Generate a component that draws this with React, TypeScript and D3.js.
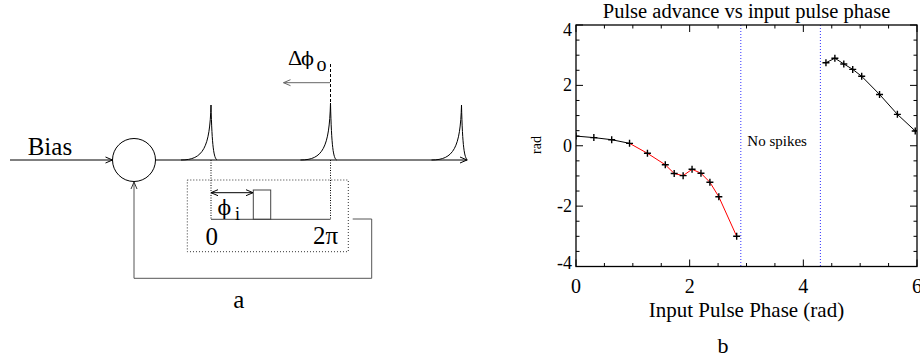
import * as d3 from 'd3';
import React, { useEffect, useRef } from 'react';

// input pulse phase (rad) and measured pulse advance (rad)
const leftPhase = [0, 0.314, 0.628, 0.942, 1.257, 1.571, 1.728, 1.885, 2.042, 2.199, 2.356, 2.513, 2.827];
const leftAdvance = [0.32, 0.27, 0.2, 0.08, -0.25, -0.63, -0.92, -0.99, -0.78, -0.91, -1.21, -1.69, -3.0];
const redFrom = 3;
const rightPhase = [4.398, 4.555, 4.712, 4.869, 5.027, 5.341, 5.655, 5.969];
const rightAdvance = [2.75, 2.9, 2.71, 2.53, 2.3, 1.7, 1.04, 0.49];
const noSpikeBounds = [2.9, 4.3];
const xTickLabels = [0, 2, 4, 6];
const yTickLabels = [-4, -2, 0, 2, 4];

const serif = "'Liberation Serif', 'Times New Roman', serif";
const phiFont = "'DejaVu Serif', serif";

export default function App() {
  const svgRef = useRef(null);

  useEffect(() => {
    const svg = d3.select(svgRef.current);
    svg.selectAll('*').remove();

    // ---------- panel a: schematic ----------
    const a = svg.append('g');
    const base = 160;

    const line = (g, x1, y1, x2, y2, color = '#000', dash = null) => {
      const l = g.append('line')
        .attr('x1', x1).attr('y1', y1).attr('x2', x2).attr('y2', y2)
        .attr('stroke', color).attr('stroke-width', 1);
      if (dash) l.attr('stroke-dasharray', dash);
      return l;
    };
    // open chevron arrowhead, tip at (x,y), pointing along angle (radians)
    const chevron = (g, x, y, ang, color = '#000') => {
      const len = 7, half = 3;
      const bx = x - len * Math.cos(ang), by = y - len * Math.sin(ang);
      const px = -Math.sin(ang) * half, py = Math.cos(ang) * half;
      g.append('path')
        .attr('d', `M${bx + px},${by + py}L${x},${y}L${bx - px},${by - py}`)
        .attr('fill', 'none').attr('stroke', color).attr('stroke-width', 1);
    };

    line(a, 10, base, 112.5, base);
    chevron(a, 112.5, base, 0);
    a.append('circle').attr('cx', 134).attr('cy', base).attr('r', 21.5)
      .attr('fill', 'none').attr('stroke', '#000').attr('stroke-width', 1);
    line(a, 155.5, base, 467, base);
    chevron(a, 467, base, 0);

    // spikes
    [[211, 55], [330.5, 57], [461.5, 55]].forEach(([px, h]) => {
      const p = d3.path();
      p.moveTo(px - 30, base);
      p.bezierCurveTo(px - 8, base, px - 1.2, base - 12, px, base - h);
      p.bezierCurveTo(px + 1, base - 12, px + 3, base - 2, px + 6, base);
      a.append('path').attr('d', p.toString())
        .attr('fill', 'none').attr('stroke', '#000').attr('stroke-width', 1);
    });

    a.append('text').attr('x', 288).attr('y', 65)
      .style('font-family', serif).style('font-size', '22px').text('Δ');
    a.append('text').attr('x', 301).attr('y', 65)
      .style('font-family', phiFont).style('font-size', '19px').text('ϕ');
    a.append('text').attr('x', 316.5).attr('y', 71)
      .style('font-family', serif).style('font-size', '20px').text('o');
    line(a, 330.5, 64, 330.5, 103, '#000', '3,2');
    line(a, 330, 82.7, 283.5, 82.7, '#666');
    chevron(a, 283.5, 82.7, Math.PI, '#666');

    line(a, 211, base, 211, 219, '#000', '1,1.5');
    line(a, 330.5, base, 330.5, 219, '#000', '1,1.5');
    a.append('rect').attr('x', 187.3).attr('y', 180).attr('width', 161).attr('height', 71.7)
      .attr('fill', 'none').attr('stroke', '#333').attr('stroke-width', 1)
      .attr('stroke-dasharray', '1,2');
    line(a, 211, 219.3, 330.5, 219.3, '#444');
    a.append('rect').attr('x', 253.3).attr('y', 190).attr('width', 17.4).attr('height', 29.3)
      .attr('fill', 'none').attr('stroke', '#444').attr('stroke-width', 1);
    line(a, 211, 192.7, 253, 192.7);
    chevron(a, 211, 192.7, Math.PI);
    chevron(a, 253, 192.7, 0);
    a.append('text').attr('x', 217.5).attr('y', 215)
      .style('font-family', phiFont).style('font-size', '20px').text('ϕ');
    a.append('text').attr('x', 235).attr('y', 220)
      .style('font-family', serif).style('font-size', '18px').text('i');
    a.append('text').attr('x', 211.7).attr('y', 245).attr('text-anchor', 'middle')
      .style('font-family', serif).style('font-size', '25px').text('0');
    a.append('text').attr('x', 325.5).attr('y', 244).attr('text-anchor', 'middle')
      .style('font-family', serif).style('font-size', '25px').text('2π');

    a.append('path').attr('d', 'M352.7,219H371.7V278.3H134V182')
      .attr('fill', 'none').attr('stroke', '#555').attr('stroke-width', 1);
    chevron(a, 134, 182, -Math.PI / 2, '#333');

    a.append('text').attr('x', 27.7).attr('y', 154.5)
      .style('font-family', serif).style('font-size', '25px').text('Bias');
    a.append('text').attr('x', 238.7).attr('y', 308).attr('text-anchor', 'middle')
      .style('font-family', serif).style('font-size', '25px').text('a');

    // ---------- panel b: chart ----------
    const x = d3.scaleLinear().domain([0, 6]).range([576, 917]);
    const y = d3.scaleLinear().domain([-4, 4]).range([266.5, 25]);
    const [x0, x1] = x.range();
    const [y0, y1] = y.range();
    const b = svg.append('g');

    b.append('defs').append('clipPath').attr('id', 'plotclip')
      .append('rect').attr('x', x0).attr('y', y1).attr('width', x1 - x0).attr('height', y0 - y1);

    b.append('text').attr('x', (x0 + x1) / 2).attr('y', 18).attr('text-anchor', 'middle')
      .style('font-family', serif).style('font-size', '20.5px')
      .text('Pulse advance vs input pulse phase');

    // dotted boundaries of the no-spike region
    noSpikeBounds.forEach((v) => {
      line(b, x(v), y1, x(v), y0, '#3030ff', '1,2');
    });
    b.append('text').attr('x', 747.3).attr('y', 146)
      .style('font-family', serif).style('font-size', '15px').text('No spikes');

    const plot = b.append('g').attr('clip-path', 'url(#plotclip)');
    const lineGen = d3.line().x((d) => x(d[0])).y((d) => y(d[1]));
    const leftPts = leftPhase.map((v, i) => [v, leftAdvance[i]]);
    const rightPts = rightPhase.map((v, i) => [v, rightAdvance[i]]);

    plot.append('path').attr('d', lineGen(leftPts.slice(0, redFrom + 1)))
      .attr('fill', 'none').attr('stroke', '#000').attr('stroke-width', 1);
    plot.append('path').attr('d', lineGen(leftPts.slice(redFrom)))
      .attr('fill', 'none').attr('stroke', '#ff0000').attr('stroke-width', 1);
    plot.append('path').attr('d', lineGen(rightPts))
      .attr('fill', 'none').attr('stroke', '#000').attr('stroke-width', 1);

    const s = 3.5;
    plot.selectAll('path.sym')
      .data(leftPts.concat(rightPts))
      .enter()
      .append('path')
      .attr('class', 'sym')
      .attr('d', (d) => {
        const cx = x(d[0]), cy = y(d[1]);
        return `M${cx - s},${cy}H${cx + s}M${cx},${cy - s}V${cy + s}`;
      })
      .attr('stroke', '#000').attr('stroke-width', 1.4);

    // box and inward ticks
    b.append('rect').attr('x', x0).attr('y', y1).attr('width', x1 - x0).attr('height', y0 - y1)
      .attr('fill', 'none').attr('stroke', '#000').attr('stroke-width', 1.3);
    d3.range(0, 6.001, 0.5).forEach((v) => {
      const len = v % 2 === 0 ? 7 : 3.5;
      line(b, x(v), y0, x(v), y0 - len);
      line(b, x(v), y1, x(v), y1 + len);
    });
    d3.range(-4, 4.001, 0.5).forEach((v) => {
      const len = v % 2 === 0 ? 7 : 3.5;
      line(b, x0, y(v), x0 + len, y(v));
      line(b, x1, y(v), x1 - len, y(v));
    });

    xTickLabels.forEach((v) => {
      b.append('text').attr('x', x(v)).attr('y', 293).attr('text-anchor', 'middle')
        .style('font-family', serif).style('font-size', '20px').text(v);
    });
    yTickLabels.forEach((v) => {
      const shift = v === 4 ? 5 : v === -4 ? -4 : 0;
      b.append('text').attr('x', 572).attr('y', y(v) + shift).attr('dy', '0.34em')
        .attr('text-anchor', 'end')
        .style('font-family', serif).style('font-size', '18px').text(v);
    });

    b.append('text').attr('transform', 'translate(541,145) rotate(-90)')
      .attr('text-anchor', 'middle')
      .style('font-family', serif).style('font-size', '14px').text('rad');
    b.append('text').attr('x', (x0 + x1) / 2).attr('y', 316.5).attr('text-anchor', 'middle')
      .style('font-family', serif).style('font-size', '21px').text('Input Pulse Phase (rad)');
    b.append('text').attr('x', 723).attr('y', 353).attr('text-anchor', 'middle')
      .style('font-family', serif).style('font-size', '22px').text('b');
  }, []);

  return (
    <svg ref={svgRef} width={920} height={364}
      style={{ position: 'absolute', left: 0, top: 0, background: '#fff' }}>
    </svg>
  );
}
